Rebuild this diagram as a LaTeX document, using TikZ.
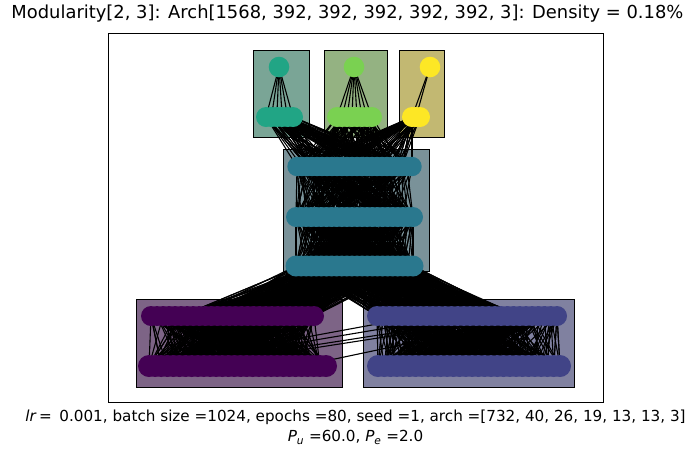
\documentclass[tikz,border=0pt]{standalone}
\usepackage{fontspec}
\setmainfont{DejaVu Sans}
\definecolor{cua}{HTML}{21A585}
\definecolor{cub}{HTML}{7AD151}
\definecolor{cuc}{HTML}{FDE725}
\definecolor{cmid}{HTML}{2A788E}
\definecolor{cbl}{HTML}{440154}
\definecolor{cbr}{HTML}{414487}
\definecolor{fua}{RGB}{122,165,150}
\definecolor{fub}{RGB}{148,178,130}
\definecolor{fuc}{RGB}{194,184,114}
\definecolor{fmid}{RGB}{122,146,153}
\definecolor{fbl}{RGB}{125,100,134}
\definecolor{fbr}{RGB}{128,129,160}
\begin{document}
\begin{tikzpicture}[x=1pt,y=-1pt,
  edge/.style={line width=1.1pt, black},
  modbox/.style={draw=black, line width=1pt},
  titletext/.style={font=\fontsize{17.9}{21}\selectfont},
  labeltext/.style={font=\fontsize{15.2}{18}\selectfont}]
\useasboundingbox (0,0) rectangle (696,459);
\pgfmathsetseed{7}
% title and axes
\node[titletext] (title) at (347.5,14) {Modularity[2, 3]: Arch[1568, 392, 392, 392, 392, 392, 3]: Density = 0.18\%};
\node[draw, line width=1pt, minimum width=495, minimum height=369, inner sep=0, anchor=north west] (axes) at (108,33) {};
\node[labeltext] (xl1) at (355.5,417) {\textit{lr}\,=\enspace 0.001, batch size =1024, epochs =80, seed =1, arch =[732, 40, 26, 19, 13, 13, 3]};
\node[labeltext] (xl2) at (355.5,437.5) {\textit{P}\textsubscript{\textit{u}} =60.0, \textit{P}\textsubscript{\textit{e}} =2.0};
% module boxes
\draw[modbox, fill=fua] (253,50) rectangle (309,137);
\draw[modbox, fill=fub] (324,50) rectangle (387,137);
\draw[modbox, fill=fuc] (399,50) rectangle (444,137);
\draw[modbox, fill=fmid] (283,149) rectangle (429,271);
\draw[modbox, fill=fbl] (136,299) rectangle (342,387);
\draw[modbox, fill=fbr] (363,299) rectangle (574,387);
% neuron coordinates
\coordinate (t1) at (279,67);
\coordinate (t2) at (354,67);
\coordinate (t3) at (430,67);
\foreach \k in {1,...,6}{\coordinate (ua\k) at ({266+(\k-1)*27/5},117);}
\foreach \k in {1,...,8}{\coordinate (ub\k) at ({337+(\k-1)*5},117);}
\foreach \k in {1,...,3}{\coordinate (uc\k) at ({412+(\k-1)*4},117);}
\foreach \k in {1,...,24}{\coordinate (ma\k) at ({297+(\k-1)*115/23},166.5);}
\foreach \k in {1,...,24}{\coordinate (mb\k) at ({296+(\k-1)*117/23},217);}
\foreach \k in {1,...,24}{\coordinate (mc\k) at ({296+(\k-1)*117/23},266);}
\foreach \k in {1,...,28}{\coordinate (bla\k) at ({151+(\k-1)*163/27},316);}
\foreach \k in {1,...,30}{\coordinate (blb\k) at ({149+(\k-1)*177/29},366);}
\foreach \k in {1,...,30}{\coordinate (bra\k) at ({377+(\k-1)*180/29},316);}
\foreach \k in {1,...,30}{\coordinate (brb\k) at ({378+(\k-1)*182/29},366);}
% edges
\foreach \k in {1,...,6}{\draw[edge] (t1) -- (ua\k);}
\foreach \k in {1,...,8}{\draw[edge] (t2) -- (ub\k);}
\foreach \k in {1,2}{\draw[edge] (t3) -- (uc\k);}
\foreach \n in {1,...,90}{\pgfmathrandominteger{\ri}{1}{6}\pgfmathrandominteger{\rj}{1}{24}\draw[edge] (ua\ri) -- (ma\rj);}
\foreach \n in {1,...,90}{\pgfmathrandominteger{\ri}{1}{8}\pgfmathrandominteger{\rj}{1}{24}\draw[edge] (ub\ri) -- (ma\rj);}
\foreach \n in {1,...,60}{\pgfmathrandominteger{\ri}{1}{3}\pgfmathrandominteger{\rj}{1}{24}\draw[edge] (uc\ri) -- (ma\rj);}
\foreach \n in {1,...,260}{\pgfmathrandominteger{\ri}{1}{24}\pgfmathrandominteger{\rj}{1}{24}\draw[edge] (ma\ri) -- (mb\rj);}
\foreach \n in {1,...,450}{\pgfmathrandominteger{\ri}{1}{24}\pgfmathrandominteger{\rj}{1}{24}\draw[edge] (mb\ri) -- (mc\rj);}
\foreach \n in {1,...,380}{\pgfmathrandominteger{\ri}{1}{24}\pgfmathrandominteger{\rj}{6}{28}\draw[edge] (mc\ri) -- (bla\rj);}
\foreach \n in {1,...,380}{\pgfmathrandominteger{\ri}{1}{24}\pgfmathrandominteger{\rj}{1}{25}\draw[edge] (mc\ri) -- (bra\rj);}
\foreach \n in {1,...,450}{\pgfmathrandominteger{\ri}{1}{28}\pgfmathrandominteger{\rj}{1}{30}\draw[edge] (bla\ri) -- (blb\rj);}
\foreach \n in {1,...,450}{\pgfmathrandominteger{\ri}{1}{30}\pgfmathrandominteger{\rj}{1}{30}\draw[edge] (bra\ri) -- (brb\rj);}
\foreach \i/\j in {3/14, 1/8, 6/21, 9/24, 26/27}{\draw[edge] (blb\i) -- (bra\j);}
% neurons
\fill[cua] (t1) circle (10.3);
\fill[cub] (t2) circle (10.3);
\fill[cuc] (t3) circle (10.3);
\foreach \k in {1,...,6}{\fill[cua] (ua\k) circle (10);}
\foreach \k in {1,...,8}{\fill[cub] (ub\k) circle (10);}
\foreach \k in {1,...,3}{\fill[cuc] (uc\k) circle (10);}
\foreach \k in {1,...,24}{\fill[cmid] (ma\k) circle (9.7);}
\foreach \k in {1,...,24}{\fill[cmid] (mb\k) circle (10);}
\foreach \k in {1,...,24}{\fill[cmid] (mc\k) circle (10.5);}
\foreach \k in {1,...,28}{\fill[cbl] (bla\k) circle (10);}
\foreach \k in {1,...,30}{\fill[cbl] (blb\k) circle (11);}
\foreach \k in {1,...,30}{\fill[cbr] (bra\k) circle (10);}
\foreach \k in {1,...,30}{\fill[cbr] (brb\k) circle (11);}
\end{tikzpicture}
\end{document}
